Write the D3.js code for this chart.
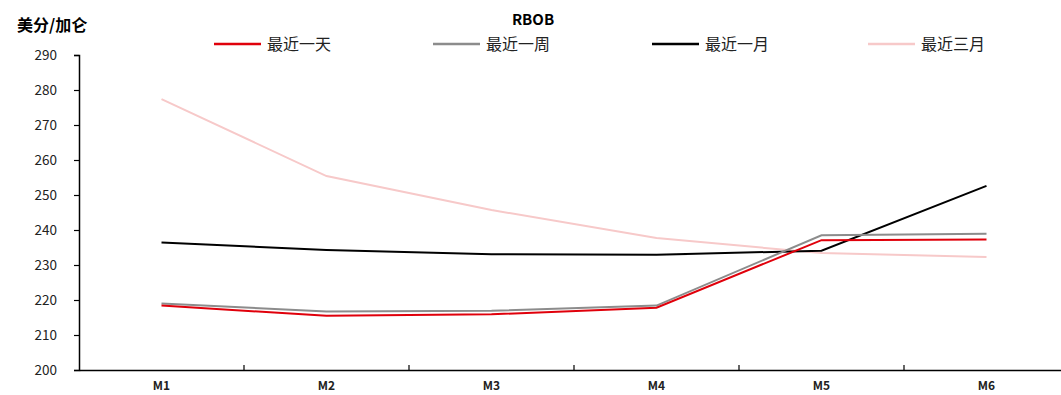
<!DOCTYPE html>
<html><head><meta charset="utf-8">
<script src="https://cdn.jsdelivr.net/npm/d3@7"></script>
<style>body{margin:0;background:#fff}svg{display:block}</style>
</head><body><svg id="c" width="1061" height="395"></svg>
<script>
const categories = ["M1","M2","M3","M4","M5","M6"];
const seriesNames = ["最近一天","最近一周","最近一月","最近三月"];
const day   = [218.4, 215.5, 215.9, 217.8, 237.1, 237.3];
const week  = [219.0, 216.7, 216.9, 218.4, 238.5, 238.9];
const month = [236.4, 234.3, 233.1, 232.9, 234.1, 252.6];
const quarter = [277.4, 255.4, 245.7, 237.7, 233.4, 232.3];
const yTicks = [200,210,220,230,240,250,260,270,280,290];
const colors = ["#e0000b","#8c8c8c","#000000","#f7c9c9"];

const svg = d3.select("#c");
const x = d3.scaleBand().domain(categories).range([79, 1069]);
const y = d3.scaleLinear().domain([200, 290]).range([370, 55]);
const font = "'Noto Sans CJK SC', 'DejaVu Sans', sans-serif";

// y axis
const ya = svg.append("g").attr("transform","translate(79,0)")
  .call(d3.axisLeft(y).tickValues(yTicks).tickSize(5).tickPadding(17).tickFormat(d3.format("d")));
ya.select(".domain").attr("stroke","#000").attr("stroke-width",1.5);
ya.selectAll(".tick line").attr("stroke","#000").attr("stroke-width",1.2);
ya.selectAll("text").attr("font-family",font).attr("font-size",13.5).attr("fill","#222");

// x axis
const xa = svg.append("g").attr("transform","translate(0,370)")
  .call(d3.axisBottom(x).tickSize(0).tickPadding(11));
xa.select(".domain").attr("stroke","#000").attr("stroke-width",1.5);
xa.selectAll("text").attr("font-family",font).attr("font-size",12).attr("font-weight","bold").attr("fill","#222");
// boundary ticks pointing up
const bounds = categories.slice(1).map(c => x(c));
svg.append("g").selectAll("line").data(bounds).join("line")
  .attr("x1",d=>d).attr("x2",d=>d).attr("y1",370).attr("y2",365)
  .attr("stroke","#000").attr("stroke-width",1.2);

const line = d3.line().x((d,i)=>x(categories[i])+x.bandwidth()/2).y(d=>y(d));
const data = [day, week, month, quarter];
[3,2,1,0].forEach(k=>{
  svg.append("path").datum(data[k]).attr("d",line).attr("fill","none")
    .attr("stroke",colors[k]).attr("stroke-width",2).attr("stroke-linejoin","miter");
});

// title
svg.append("text").attr("x",533).attr("y",25).attr("text-anchor","middle")
  .attr("font-family",font).attr("font-weight","bold").attr("font-size",15).text("RBOB");
// y unit
svg.append("text").attr("x",17).attr("y",31)
  .attr("font-family",font).attr("font-weight","bold").attr("font-size",16).text("美分/加仑");

// legend
const legX = [214, 433, 652, 868];
const lg = svg.append("g").selectAll("g").data(seriesNames).join("g")
  .attr("transform",(d,i)=>`translate(${legX[i]},44)`);
lg.append("line").attr("x1",0).attr("x2",47).attr("y1",0).attr("y2",0)
  .attr("stroke",(d,i)=>colors[i]).attr("stroke-width",2.5);
lg.append("text").attr("x",53).attr("y",6).attr("font-family",font).attr("font-size",16)
  .attr("fill","#222").text(d=>d);
</script></body></html>
